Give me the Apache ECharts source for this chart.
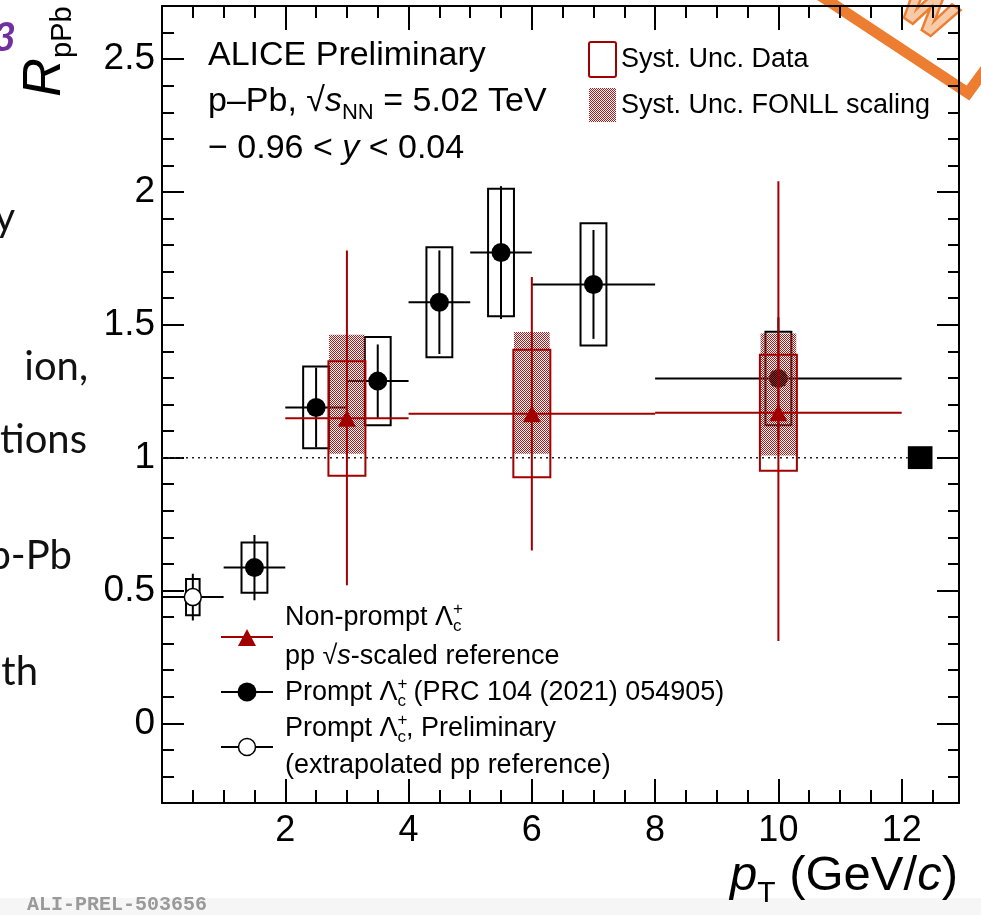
<!DOCTYPE html>
<html>
<head>
<meta charset="utf-8">
<script src="https://cdn.jsdelivr.net/npm/echarts@6/dist/echarts.min.js"></script>
<style>
  html, body { margin: 0; padding: 0; background: #fff; }
  #main { width: 981px; height: 915px; }
</style>
</head>
<body>
<div id="main"></div>
<script>
// prompt Lambda_c+ (PRC 104 (2021) 054905)
var promptX = [1.5, 2.5, 3.5, 4.5, 5.5, 7, 10];
var promptXLo = [1, 2, 3, 4, 5, 6, 8];
var promptXHi = [2, 3, 4, 5, 6, 8, 12];
var promptY = [0.586, 1.189, 1.288, 1.585, 1.772, 1.652, 1.298];
var promptStat = [0.123, 0.15, 0.138, 0.195, 0.25, 0.205, 0.23];
var promptSyst = [0.095, 0.154, 0.166, 0.207, 0.24, 0.23, 0.176];

// prompt Lambda_c+, preliminary (extrapolated pp reference)
var prelX = [0.5];
var prelXLo = [0];
var prelXHi = [1];
var prelY = [0.475];
var prelStat = [0.088];
var prelSyst = [0.068];

// non-prompt Lambda_c+, pp sqrt(s)-scaled reference
var npX = [3, 6, 10];
var npXLo = [2, 4, 8];
var npXHi = [4, 8, 12];
var npY = [1.148, 1.165, 1.169];
var npStatLo = [0.52, 0.65, 0.31];
var npStatHi = [1.78, 1.68, 2.04];
var npSystLo = [0.932, 0.926, 0.951];
var npSystHi = [1.363, 1.406, 1.387];
var npFonllLo = [1.015, 1.015, 1.008];
var npFonllHi = [1.463, 1.473, 1.467];

// normalisation uncertainty box at R = 1
var normX = [12.3];
var normUnc = [0.043];
var unityLine = [[0, 1], [12.1, 1]];

var xTicks = [2, 4, 6, 8, 10, 12];

var RED = '#a00000';
var FF = '"Liberation Sans", Arial, sans-serif';
var promptHalf = 0.21, prelHalf = 0.11, npHalf = 0.3, fonllHalf = 0.29, normHalf = 0.2;

// dotted red fill for the FONLL boxes
var pat = document.createElement('canvas');
pat.width = 4; pat.height = 4;
var pc = pat.getContext('2d');
pc.fillStyle = '#b01818';
for (var i = 0; i < 4; i++) for (var j = 0; j < 4; j++) if ((i + j) % 2 === 0) pc.fillRect(i, j, 1, 1);
var hatch = { image: pat, repeat: 'repeat' };

function boxRender(stroke, fill) {
    return function (params, api) {
        var a = api.coord([api.value(0) - api.value(1), api.value(3)]);
        var b = api.coord([api.value(0) + api.value(1), api.value(2)]);
        return {
            type: 'rect',
            shape: { x: a[0], y: a[1], width: b[0] - a[0], height: b[1] - a[1] },
            style: { fill: fill || 'none', stroke: stroke || 'none', lineWidth: 2 }
        };
    };
}
function errRender(color) {
    return function (params, api) {
        var l = api.coord([api.value(1), api.value(3)]);
        var r = api.coord([api.value(2), api.value(3)]);
        var lo = api.coord([api.value(0), api.value(4)]);
        var hi = api.coord([api.value(0), api.value(5)]);
        return {
            type: 'group', children: [
                { type: 'line', shape: { x1: l[0], y1: l[1], x2: r[0], y2: r[1] }, style: { stroke: color, lineWidth: 2 } },
                { type: 'line', shape: { x1: lo[0], y1: lo[1], x2: hi[0], y2: hi[1] }, style: { stroke: color, lineWidth: 2 } }
            ]
        };
    };
}
function custom(data, render, z) {
    return { type: 'custom', renderItem: render, data: data, encode: { x: 0, y: 3 }, silent: true, z: z || 2 };
}

var promptBoxes = promptX.map(function (x, k) { return [x, promptHalf, promptY[k] - promptSyst[k], promptY[k] + promptSyst[k]]; });
var promptErrs = promptX.map(function (x, k) { return [x, promptXLo[k], promptXHi[k], promptY[k], promptY[k] - promptStat[k], promptY[k] + promptStat[k]]; });
var prelBoxes = prelX.map(function (x, k) { return [x, prelHalf, prelY[k] - prelSyst[k], prelY[k] + prelSyst[k]]; });
var prelErrs = prelX.map(function (x, k) { return [x, prelXLo[k], prelXHi[k], prelY[k], prelY[k] - prelStat[k], prelY[k] + prelStat[k]]; });
var npBoxes = npX.map(function (x, k) { return [x, npHalf, npSystLo[k], npSystHi[k]]; });
var npFonll = npX.map(function (x, k) { return [x, fonllHalf, npFonllLo[k], npFonllHi[k]]; });
var npErrs = npX.map(function (x, k) { return [x, npXLo[k], npXHi[k], npY[k], npStatLo[k], npStatHi[k]]; });
var normBoxes = normX.map(function (x, k) { return [x, normHalf, 1 - normUnc[k], 1 + normUnc[k]]; });

// text runs with sub/superscripts, laid out by measuring
var mctx = document.createElement('canvas').getContext('2d');
function runs(x, base, parts, family, color) {
    var els = [];
    parts.forEach(function (p) {
        var font = (p.b ? 'bold ' : '') + (p.it ? 'italic ' : '') + p.s + 'px ' + (family || FF);
        mctx.font = font;
        var w = mctx.measureText(p.t).width;
        els.push({
            type: 'text', x: x, y: base + (p.dy || 0) - 0.34 * p.s, silent: true,
            style: { text: p.t, font: font, fill: p.c || color || '#000', align: 'left', textAlign: 'left', verticalAlign: 'middle', textVerticalAlign: 'middle' }
        });
        if (!p.noAdv) x += w;
    });
    return els;
}
var LC = [{ t: 'Λ', s: 27 }, { t: '+', s: 17, dy: -12, noAdv: true }, { t: 'c', s: 17, dy: 5 }];

var graphics = [];
graphics.push({ type: 'rect', shape: { x: 0, y: 898, width: 981, height: 17 }, style: { fill: '#f6f6f6' }, silent: true });
// header
graphics = graphics.concat(
    runs(208, 67, [{ t: 'ALICE Preliminary', s: 34 }]),
    runs(208, 113, [{ t: 'p–Pb, ', s: 34 }, { t: '√', s: 34 }, { t: 's', s: 34, it: 1 }, { t: 'NN', s: 22, dy: 7 }, { t: ' = 5.02 TeV', s: 34 }]),
    runs(208, 160, [{ t: '− 0.96 < ', s: 34 }, { t: 'y', s: 34, it: 1 }, { t: ' < 0.04', s: 34 }]),
    runs(621, 69, [{ t: 'Syst. Unc. Data', s: 27 }]),
    runs(621, 115, [{ t: 'Syst. Unc. FONLL scaling', s: 27 }]),
    runs(285, 627, [{ t: 'Non-prompt ', s: 27 }].concat(LC)),
    runs(285, 666, [{ t: 'pp ', s: 27 }, { t: '√', s: 27 }, { t: 's', s: 27, it: 1 }, { t: '-scaled reference', s: 27 }]),
    runs(285, 702, [{ t: 'Prompt ', s: 27 }].concat(LC, [{ t: ' (PRC 104 (2021) 054905)', s: 27 }])),
    runs(285, 738, [{ t: 'Prompt ', s: 27 }].concat(LC, [{ t: ', Preliminary', s: 27 }])),
    runs(285, 775, [{ t: '(extrapolated pp reference)', s: 27 }]),
    runs(730, 893, [{ t: 'p', s: 49, it: 1 }, { t: 'T', s: 30, dy: 11 }, { t: ' (GeV/', s: 49 }, { t: 'c', s: 49, it: 1 }, { t: ')', s: 49 }]),
    runs(27, 912, [{ t: 'ALI-PREL-503656', s: 20, b: 1 }], '"Liberation Mono", monospace', '#9a9a9a')
);
// y axis title, rotated
graphics.push({
    type: 'group', x: 63, y: 97, rotation: Math.PI / 2,
    children: runs(0, 0, [{ t: 'R', s: 54, it: 1 }, { t: 'pPb', s: 29, dy: 10 }])
});
// legend symbols
graphics.push(
    { type: 'rect', shape: { x: 589, y: 42, width: 27, height: 35, r: 2 }, style: { fill: 'none', stroke: RED, lineWidth: 2 } },
    { type: 'rect', shape: { x: 589, y: 88, width: 27, height: 34 }, style: { fill: hatch } },
    { type: 'line', shape: { x1: 221, y1: 637, x2: 273, y2: 637 }, style: { stroke: RED, lineWidth: 2 } },
    { type: 'polygon', shape: { points: [[238, 646], [256, 646], [247, 629]] }, style: { fill: RED } },
    { type: 'line', shape: { x1: 221, y1: 692, x2: 273, y2: 692 }, style: { stroke: '#000', lineWidth: 2 } },
    { type: 'circle', shape: { cx: 247, cy: 692, r: 9.5 }, style: { fill: '#000' } },
    { type: 'line', shape: { x1: 221, y1: 747, x2: 273, y2: 747 }, style: { stroke: '#000', lineWidth: 2 } },
    { type: 'circle', shape: { cx: 247, cy: 747, r: 8.5 }, style: { fill: '#fff', stroke: '#000', lineWidth: 1.5 } }
);
// slide fragments behind the figure
var SF = 'Lato, "Open Sans", sans-serif';
[['y', 15, 218], ['ion,', 88, 367], ['tions', 87, 440], ['p-Pb', 72, 556], ['th', 38, 672]].forEach(function (s) {
    graphics.push({ type: 'text', x: s[1], y: s[2], silent: true,
        style: { text: s[0], font: '40px ' + SF, fill: '#111', align: 'right', textAlign: 'right', verticalAlign: 'middle', textVerticalAlign: 'middle' } });
});
graphics.push({ type: 'text', x: 16, y: 38, silent: true,
    style: { text: '3', font: 'italic bold 40px ' + SF, fill: '#7030a0', align: 'right', textAlign: 'right', verticalAlign: 'middle', textVerticalAlign: 'middle' } });
// orange "NEW" stamp corner
graphics.push(
    { type: 'polyline', shape: { points: [[818, -6], [968, 93], [998, 52]] }, style: { stroke: '#ed7d31', lineWidth: 11, fill: 'none' } },
    { type: 'text', x: 926, y: 14, rotation: -0.6, silent: true,
      style: { text: 'W', font: 'bold 52px ' + FF, fill: '#f8cba8', stroke: '#ed7d31', lineWidth: 5, align: 'center', textAlign: 'center', verticalAlign: 'middle', textVerticalAlign: 'middle' } }
);

function xAx(pos, interval, len, labels) {
    return {
        type: 'value', position: pos, min: 0, max: 12.93, interval: interval,
        axisLine: { show: len > 15, onZero: false, lineStyle: { color: '#000', width: 2 } },
        axisTick: { show: true, inside: true, length: len, lineStyle: { color: '#000', width: 2 } },
        axisLabel: { show: labels, fontSize: 36, fontFamily: FF, color: '#000', margin: 10,
            formatter: function (v) { return xTicks.indexOf(v) >= 0 ? String(v) : ''; } },
        splitLine: { show: false }
    };
}
function yAx(pos, minor, len, labels) {
    var ax = {
        type: 'value', position: pos, min: -0.3, max: 2.7,
        axisLine: { show: !minor, onZero: false, lineStyle: { color: '#000', width: 2 } },
        axisTick: { show: true, inside: true, length: len, lineStyle: { color: '#000', width: 2 } },
        axisLabel: { show: labels, fontSize: 37, fontFamily: FF, color: '#000', margin: 7, showMinLabel: false, showMaxLabel: false },
        splitLine: { show: false }
    };
    if (minor) ax.interval = 0.1; else ax.splitNumber = 6;
    return ax;
}

var chart = echarts.init(document.getElementById('main'));
chart.setOption({
    animation: false,
    backgroundColor: '#fff',
    grid: { left: 162, top: 6, width: 797, height: 797, containLabel: false },
    xAxis: [xAx('bottom', 2, 24, true), xAx('bottom', 0.5, 13, false), xAx('top', 2, 24, false), xAx('top', 0.5, 12, false)],
    yAxis: [yAx('left', false, 22, true), yAx('left', true, 12, false), yAx('right', false, 22, false), yAx('right', true, 11, false)],
    graphic: { elements: graphics },
    series: [
        { type: 'line', data: unityLine, symbol: 'none', silent: true, z: 1, lineStyle: { color: '#222', width: 1.5, type: [2, 4] } },
        custom(prelBoxes, boxRender('#000'), 2),
        custom(prelErrs, errRender('#000'), 2),
        custom(promptBoxes, boxRender('#000'), 2),
        custom(promptErrs, errRender('#000'), 2),
        { type: 'scatter', data: prelX.map(function (x, k) { return [x, prelY[k]]; }), symbol: 'circle', symbolSize: 17, z: 3,
          itemStyle: { color: '#fff', borderColor: '#000', borderWidth: 1.5, opacity: 1 }, silent: true },
        { type: 'scatter', data: promptX.map(function (x, k) { return [x, promptY[k]]; }), symbol: 'circle', symbolSize: 19, z: 3,
          itemStyle: { color: '#000', opacity: 1 }, silent: true },
        custom(npFonll, boxRender(null, hatch), 4),
        custom(npBoxes, boxRender(RED), 5),
        custom(npErrs, errRender(RED), 5),
        { type: 'scatter', data: npX.map(function (x, k) { return [x, npY[k]]; }), symbol: 'triangle', symbolSize: [18, 17], z: 6,
          itemStyle: { color: RED, opacity: 1 }, silent: true },
        custom(normBoxes, boxRender(null, '#000'), 5)
    ]
});
</script>
</body>
</html>
